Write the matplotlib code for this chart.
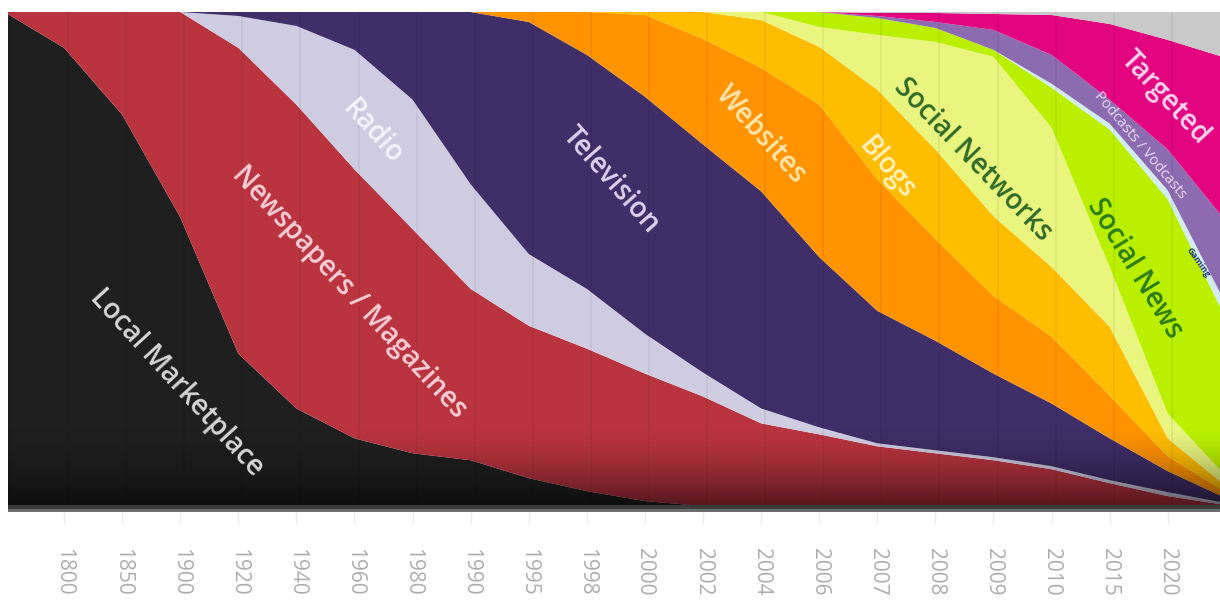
import numpy as np
import matplotlib.pyplot as plt

plt.rcParams['font.family'] = ['Open Sans', 'DejaVu Sans']

years = ['1800', '1850', '1900', '1920', '1940', '1960', '1980', '1990', '1995', '1998',
         '2000', '2002', '2004', '2006', '2007', '2008', '2009', '2010', '2015', '2020']

# relative share of each medium
# first and last column are where the picture is cropped (left of 1800, right of 2020)
local_marketplace = [495, 460, 393, 290, 153, 98, 68, 53, 46, 28, 15, 5, 0, 0, 0, 0, 0, 0, 0, 0, 0, 0]
newspapers = [1, 36, 103, 206, 307, 305, 270, 225, 172, 153, 143, 128, 110, 83, 72, 60, 53, 46, 37, 23, 10, 1]
radio = [0, 0, 0, 0, 32, 79, 120, 130, 105, 72, 60, 40, 24, 15, 7, 3, 3, 3, 3, 3, 4, 2]
television = [0, 0, 0, 0, 4, 14, 38, 88, 173, 233, 235, 238, 229, 218, 171, 133, 110, 84, 63, 42, 21, 5]
websites = [0, 0, 0, 0, 0, 0, 0, 0, 0, 10, 43, 82, 106, 124, 153, 132, 102, 78, 67, 43, 15, 6]
blogs = [0, 0, 0, 0, 0, 0, 0, 0, 0, 0, 0, 3, 27, 48, 58, 90, 90, 80, 70, 69, 18, 6]
social_networks = [0, 0, 0, 0, 0, 0, 0, 0, 0, 0, 0, 0, 0, 8, 20, 55, 108, 160, 140, 60, 25, 10]
social_news = [0, 0, 0, 0, 0, 0, 0, 0, 0, 0, 0, 0, 0, 0, 15, 17, 14, 7, 40, 138, 215, 158]
gaming = [0, 0, 0, 0, 0, 0, 0, 0, 0, 0, 0, 0, 0, 0, 0, 0, 0, 0, 4, 6, 9, 15]
podcasts = [0, 0, 0, 0, 0, 0, 0, 0, 0, 0, 0, 0, 0, 0, 0, 2, 6, 20, 29, 24, 41, 83]
targeted = [0, 0, 0, 0, 0, 0, 0, 0, 0, 0, 0, 0, 0, 0, 0, 3, 9, 16, 40, 76, 110, 164]
other = [0, 0, 0, 0, 0, 0, 0, 0, 0, 0, 0, 0, 0, 0, 0, 1, 1, 2, 3, 12, 28, 46]

layers = np.array([local_marketplace, newspapers, radio, television, websites, blogs,
                   social_networks, social_news, gaming, podcasts, targeted, other], float)
shares = layers / layers.sum(axis=0) * 100
x = np.arange(-1, len(years) + 1)

colors = ['#1f1f1f', '#b9343f', '#cfcce2', '#402e68', '#ff9300', '#ffbd00',
          '#e9f57e', '#baf000', '#d2ecf0', '#8d6bb1', '#e3047f', '#c9c9c9']

fig = plt.figure(figsize=(12.2, 6.08), dpi=100)
ax = fig.add_axes([8 / 1220, 1 - 512 / 608, 1 - 8 / 1220, 500 / 608])
ax.stackplot(x, shares, colors=colors, lw=0)

# faint column stripes
for i in x:
    ax.axvline(i + 0.07, color='k', alpha=0.06, lw=1.2, zorder=2)

# shadow towards the bottom
ramp = np.linspace(0, 1, 200).reshape(-1, 1)
shade = np.zeros((200, 1, 4))
shade[:, 0, 3] = 0.55 * ramp[:, 0] ** 1.6
ax.imshow(shade, extent=[-1, 21, 0, 16], aspect='auto', origin='upper', zorder=3)
ax.axhspan(-1.2, -0.5, color='#6e6e6e', lw=0, zorder=4)
ax.axhspan(-0.5, 0.2, color='#3c3c3c', lw=0, zorder=4)

ax.set_xlim(-0.965, 19.9)
ax.set_ylim(-1.2, 100)
for s in ax.spines.values():
    s.set_visible(False)
ax.set_yticks([])
ax.set_xticks(range(len(years)))
ax.set_xticklabels(years, rotation=-90)
ax.tick_params(axis='x', length=8, width=1, color='#ececec', pad=18,
               labelcolor='#adadad', labelsize=15)

def label(px, py, txt, ang, size, color, weight='semibold'):
    # position given in picture pixels of the original layout
    fig.text(px / 1220, 1 - py / 608, txt, rotation=ang, rotation_mode='anchor',
             ha='center', va='center', fontsize=size, color=color, fontweight=weight)

label(177, 383, 'Local Marketplace', -47.5, 20, '#d6d6d6')
label(349, 292, 'Newspapers / Magazines', -47.3, 20, '#f7d0d6')
label(372, 132, 'Radio', -48, 20, '#f4f2fa')
label(611, 180, 'Television', -48.5, 20, '#dcd4ee')
label(761, 135, 'Websites', -48, 20, '#ffe6b0')
label(887, 168, 'Blogs', -50, 20, '#fff2c2')
label(973, 160, 'Social Networks', -46, 20, '#2e6a2a')
label(1135, 268, 'Social News', -58.5, 20, '#2b7a1c')
label(1165, 98, 'Targeted', -47, 20, '#ffd4ec')
label(1140, 145, 'Podcasts / Vodcasts', -50, 10.5, '#ebdff6', 'normal')
label(1198, 262, 'Gaming', -55, 6.5, '#1f3a7a', 'bold')

fig.savefig('out.png', dpi=100)
